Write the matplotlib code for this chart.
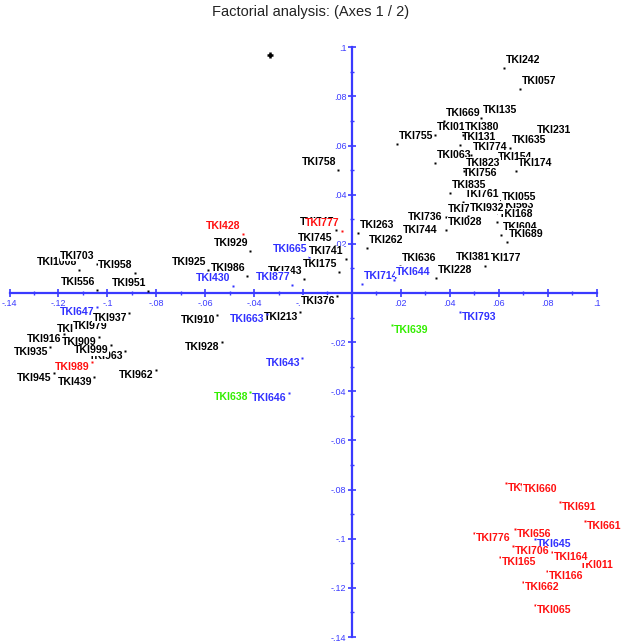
import numpy as np
import matplotlib.pyplot as plt
from matplotlib.ticker import FixedLocator, FuncFormatter

# points of the factorial map (axis 1, axis 2); order = drawing order
names = [
    # upper right
    'TKI019', 'TKI131', 'TKI063', 'TKI154', 'TKI756', 'TKI761', 'TKI733', 'TKI563',
    'TKI168', 'TKI604', 'TKI177',
    'TKI242', 'TKI057', 'TKI669', 'TKI135', 'TKI380', 'TKI231', 'TKI755', 'TKI635',
    'TKI774', 'TKI823', 'TKI174', 'TKI835', 'TKI055', 'TKI932', 'TKI689', 'TKI736',
    'TKI028', 'TKI744', 'TKI263', 'TKI262', 'TKI636', 'TKI381', 'TKI228', 'TKI714',
    'TKI644',
    # upper left
    'TKI758', 'TKI428', 'TKI747', 'TKI777', 'TKI929', 'TKI745', 'TKI665', 'TKI741',
    'TKI175', 'TKI925', 'TKI986', 'TKI743', 'TKI877', 'TKI430', 'TKI1008', 'TKI703',
    'TKI958', 'TKI556', 'TKI951',
    # lower left
    'TKI376', 'TKI976', 'TKI979', 'TKI647', 'TKI937', 'TKI909', 'TKI916', 'TKI963',
    'TKI935', 'TKI999', 'TKI989', 'TKI945', 'TKI439', 'TKI962', 'TKI910', 'TKI213',
    'TKI663', 'TKI928', 'TKI643', 'TKI638', 'TKI646',
    # lower right
    'TKI639', 'TKI793', 'TKI667', 'TKI660', 'TKI691', 'TKI661', 'TKI776', 'TKI656',
    'TKI645', 'TKI706', 'TKI011', 'TKI164', 'TKI165', 'TKI166', 'TKI662', 'TKI065',
]
axis1 = [
    0.0339, 0.0442, 0.0339, 0.0589, 0.0446, 0.0454, 0.0384, 0.0597,
    0.0593, 0.0609, 0.0544,
    0.0622, 0.0687, 0.0376, 0.0528, 0.0454, 0.0748, 0.0184, 0.0646,
    0.0487, 0.0458, 0.0671, 0.0401, 0.0605, 0.0474, 0.0634, 0.0221,
    0.0384, 0.0200, 0.0025, 0.0061, 0.0196, 0.0417, 0.0343, 0.0041,
    0.0172,
    -0.0057, -0.0446, -0.0065, -0.0041, -0.0417, -0.0070, -0.0176, -0.0025,
    -0.0053, -0.0589, -0.0429, -0.0196, -0.0245, -0.0487, -0.1117, -0.1043,
    -0.0888, -0.1043, -0.0834,
    -0.0061, -0.1055, -0.0990, -0.1043, -0.0912, -0.1035, -0.1178, -0.0928,
    -0.1235, -0.0986, -0.1063, -0.1219, -0.1055, -0.0802, -0.0552, -0.0213,
    -0.0348, -0.0532, -0.0204, -0.0417, -0.0258,
    0.0164, 0.0442, 0.0630, 0.0691, 0.0851, 0.0953, 0.0499, 0.0667,
    0.0749, 0.0659, 0.0924, 0.0818, 0.0605, 0.0797, 0.0699, 0.0748,
]
axis2 = [
    0.0643, 0.0602, 0.0529, 0.0521, 0.0456, 0.0370, 0.0309, 0.0326,
    0.0289, 0.0236, 0.0110,
    0.0916, 0.0830, 0.0700, 0.0712, 0.0643, 0.0631, 0.0606, 0.0590,
    0.0562, 0.0497, 0.0497, 0.0407, 0.0358, 0.0313, 0.0208, 0.0277,
    0.0256, 0.0224, 0.0244, 0.0183, 0.0110, 0.0114, 0.0061, 0.0037,
    0.0053,
    0.0501, 0.0240, 0.0256, 0.0252, 0.0171, 0.0191, 0.0147, 0.0138,
    0.0085, 0.0094, 0.0069, 0.0057, 0.0033, 0.0028, 0.0094, 0.0118,
    0.0081, 0.0012, 0.0008,
    -0.0012, -0.0126, -0.0114, -0.0057, -0.0081, -0.0179, -0.0167, -0.0236,
    -0.0220, -0.0212, -0.0281, -0.0326, -0.0342, -0.0313, -0.0090, -0.0077,
    -0.0085, -0.0199, -0.0265, -0.0403, -0.0407,
    -0.0130, -0.0077, -0.0773, -0.0777, -0.0851, -0.0928, -0.0977, -0.0961,
    -0.1001, -0.1030, -0.1087, -0.1054, -0.1074, -0.1131, -0.1176, -0.1270,
]
groups = (
    ['k'] * 34 + ['b', 'b']
    + ['k', 'r', 'k', 'r', 'k', 'k', 'b', 'k', 'k', 'k', 'k', 'k', 'b', 'b', 'k', 'k', 'k', 'k', 'k']
    + ['k', 'k', 'k', 'b', 'k', 'k', 'k', 'k', 'k', 'k', 'r', 'k', 'k', 'k', 'k', 'k',
       'b', 'k', 'b', 'g', 'b']
    + ['g', 'b', 'r', 'r', 'r', 'r', 'r', 'r', 'b', 'r', 'r', 'r', 'r', 'r', 'r', 'r']
)

# supplementary point without label
extra_x = [-0.0335]
extra_y = [0.0969]

palette = {'k': '#000000', 'r': '#ff1010', 'b': '#3030ff', 'g': '#33ee00'}
axis_blue = '#3a3aff'

fig = plt.figure(figsize=(6.21, 6.41), dpi=100)
ax = fig.add_axes([0, 0, 1, 1])
ax.set_xlim(-0.1439, 0.110)
ax.set_ylim(-0.1416, 0.1192)

for side in ['top', 'right']:
    ax.spines[side].set_visible(False)
for side in ['left', 'bottom']:
    ax.spines[side].set_position('zero')
    ax.spines[side].set_color(axis_blue)
    ax.spines[side].set_linewidth(1.6)
    ax.spines[side].set_bounds(-0.14, 0.1)

major = np.round(np.arange(-0.14, 0.1001, 0.02), 2)
minor = np.round(np.arange(-0.13, 0.1, 0.02), 2)
for axis in (ax.xaxis, ax.yaxis):
    axis.set_major_locator(FixedLocator(major))
    axis.set_minor_locator(FixedLocator(minor))


def fmt(v, pos):
    if abs(v) < 1e-9:
        return ''
    s = f'{v:.2f}'.rstrip('0').rstrip('.')
    return s.replace('0.', '.')


ax.xaxis.set_major_formatter(FuncFormatter(fmt))
ax.yaxis.set_major_formatter(FuncFormatter(fmt))
ax.tick_params(which='major', direction='inout', length=6, width=1.2,
               color=axis_blue, labelcolor=axis_blue, labelsize=6.5, pad=1)
ax.tick_params(which='minor', direction='inout', length=3, width=1,
               color=axis_blue)
for lab in ax.get_xticklabels() + ax.get_yticklabels():
    lab.set_fontfamily('Liberation Sans')

for name, x, y, g in zip(names, axis1, axis2, groups):
    c = palette[g]
    ax.plot(x, y, marker='s', ms=1.6, color=c, mec='none', zorder=3)
    if y >= 0:
        dy = 8
    else:
        dy = -5
    if x >= 0:
        ha, dx = 'left', 2
    else:
        ha, dx = 'right', -2
    ax.annotate(name, (x, y), xytext=(dx, dy), textcoords='offset pixels',
                ha=ha, va='center', fontsize=7.6, fontweight='bold',
                family='Liberation Sans', color=c,
                bbox=dict(boxstyle='square,pad=0.05', fc='white', ec='none'))

ax.plot(extra_x, extra_y, marker='+', ms=4, mew=1.8, color='black', ls='none')

fig.text(0.5, 1 - 12 / 641, 'Factorial analysis: (Axes 1 / 2)', ha='center',
         va='center', fontsize=10.5, family='Liberation Sans', color='#222222')

fig.savefig('out.png', dpi=100)
